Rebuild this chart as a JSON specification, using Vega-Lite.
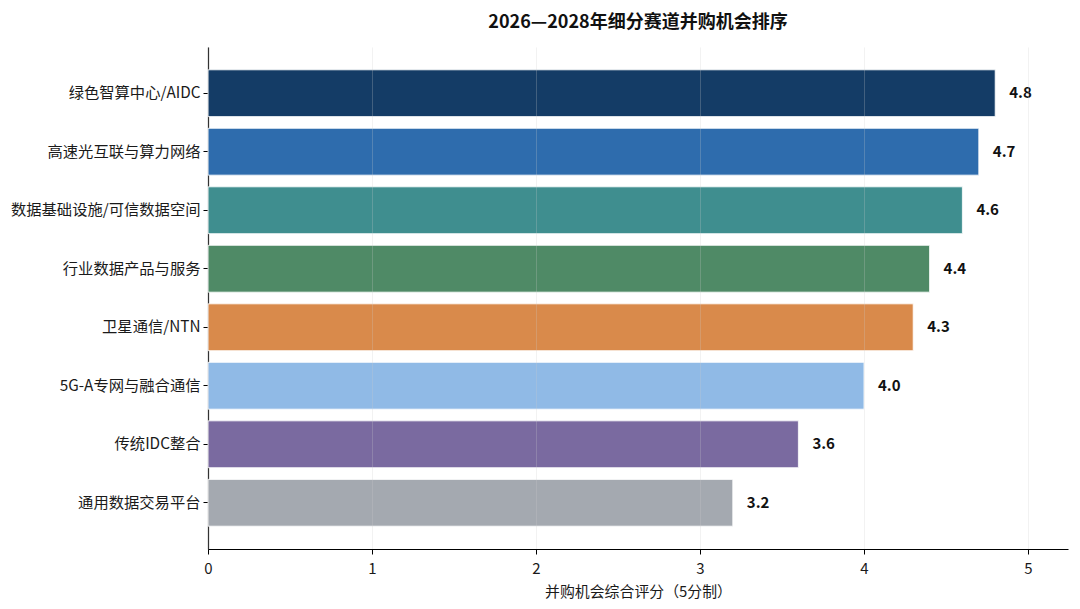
{
  "$schema": "https://vega.github.io/schema/vega-lite/v6.json",
  "width": 860,
  "height": 502,
  "autosize": {"type": "none"},
  "padding": {"left": 208, "top": 47, "right": 12, "bottom": 60},
  "background": "white",
  "config": {
    "font": "Noto Sans CJK SC",
    "view": {"stroke": null}
  },
  "title": {
    "text": "2026—2028年细分赛道并购机会排序",
    "fontSize": 18,
    "fontWeight": "bold",
    "color": "#111111",
    "anchor": "middle",
    "offset": 15,
    "font": "Noto Sans CJK SC"
  },
  "data": {
    "values": [
      {"track": "绿色智算中心/AIDC", "score": 4.8, "color": "#143c66"},
      {"track": "高速光互联与算力网络", "score": 4.7, "color": "#2e6cad"},
      {"track": "数据基础设施/可信数据空间", "score": 4.6, "color": "#3f8e8f"},
      {"track": "行业数据产品与服务", "score": 4.4, "color": "#4f8a66"},
      {"track": "卫星通信/NTN", "score": 4.3, "color": "#d98a4b"},
      {"track": "5G-A专网与融合通信", "score": 4.0, "color": "#90bae6"},
      {"track": "传统IDC整合", "score": 3.6, "color": "#7a6aa0"},
      {"track": "通用数据交易平台", "score": 3.2, "color": "#a4a9b0"}
    ]
  },
  "encoding": {
    "y": {
      "field": "track",
      "type": "nominal",
      "sort": null,
      "scale": {"paddingInner": 0.2, "paddingOuter": 0.39},
      "axis": {
        "title": null,
        "labelFontSize": 15.3,
        "labelColor": "#1a1a1a",
        "labelPadding": 3,
        "labelLimit": 400,
        "tickSize": 5,
        "tickColor": "#000000",
        "domainColor": "#000000",
        "domainWidth": 1.2,
        "grid": false
      }
    }
  },
  "layer": [
    {
      "mark": {"type": "bar", "stroke": "white", "strokeWidth": 0.8},
      "encoding": {
        "x": {
          "field": "score",
          "type": "quantitative",
          "scale": {"domain": [0, 5.244], "nice": false, "zero": true},
          "axis": {
            "values": [0, 1, 2, 3, 4, 5],
            "format": "d",
            "title": "并购机会综合评分（5分制）",
            "titleFontSize": 14.9,
            "titleFontWeight": "normal",
            "titleColor": "#1a1a1a",
            "titlePadding": 8,
            "labelFontSize": 15,
            "labelColor": "#1a1a1a",
            "labelPadding": 7,
            "labelFlush": false,
            "tickSize": 5,
            "tickColor": "#000000",
            "domainColor": "#000000",
            "domainWidth": 1.2,
            "grid": true,
            "gridColor": "#cccccc",
            "gridOpacity": 0.25,
            "zindex": 1
          }
        },
        "color": {"field": "color", "type": "nominal", "scale": null, "legend": null}
      }
    },
    {
      "mark": {"type": "text", "align": "left", "baseline": "middle", "dx": 14, "fontSize": 15, "fontWeight": "bold", "color": "#111111"},
      "encoding": {
        "x": {"field": "score", "type": "quantitative"},
        "text": {"field": "score", "type": "quantitative", "format": ".1f"}
      }
    }
  ]
}
